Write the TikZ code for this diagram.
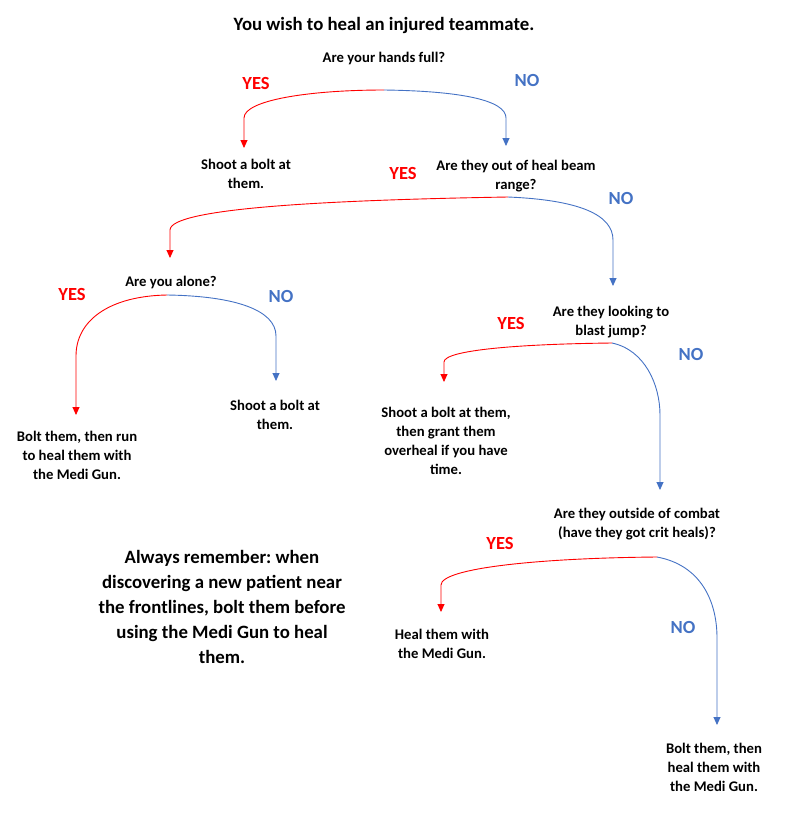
\documentclass[tikz,border=0pt]{standalone}
\usepackage{fontspec}
\setmainfont{Carlito}
\usetikzlibrary{arrows.meta}
\frenchspacing

\begin{document}
\begin{tikzpicture}[x=1pt,y=-1pt,
  txt/.style={font=\fontsize{14.7}{19}\selectfont\bfseries,align=center,inner sep=0pt},
  big/.style={font=\fontsize{18.8}{25}\selectfont\bfseries,align=center,inner sep=0pt},
  yes/.style={font=\fontsize{18.5}{19}\selectfont\bfseries,text=yesred,inner sep=0pt},
  no/.style={font=\fontsize{18.5}{19}\selectfont\bfseries,text=noblue,inner sep=0pt},
  yesline/.style={draw=yesred,line width=0.9pt,-{Triangle[width=7pt,length=8pt]}},
  noline/.style={draw=noblue,line width=0.9pt,-{Triangle[width=7pt,length=8pt]}}]
  \definecolor{yesred}{RGB}{255,0,0}
  \definecolor{noblue}{RGB}{68,114,196}
  \useasboundingbox (0,0) rectangle (786,820);
  \node[big] (title) at (384,25) {You wish to heal an injured teammate.};
  \node[txt] (q1) at (384,58) {Are your hands full?};
  \node[txt] (a1) at (246,173.5) {Shoot a bolt at\\them.};
  \node[txt] (q2) at (516,176.5) {Are they out of heal beam\\range?};
  \node[txt] (q3) at (171,282) {Are you alone?};
  \node[txt] (a2) at (77,455) {Bolt them, then run\\to heal them with\\the Medi Gun.};
  \node[txt] (a3) at (275,414.5) {Shoot a bolt at\\them.};
  \node[txt] (q4) at (611,322.5) {Are they looking to\\blast jump?};
  \node[txt] (a4) at (446,441) {Shoot a bolt at them,\\then grant them\\overheal if you have\\time.};
  \node[txt] (q5) at (637,524.5) {Are they outside of combat\\(have they got crit heals)?};
  \node[txt] (a5) at (442,643.5) {Heal them with\\the Medi Gun.};
  \node[txt] (a6) at (714,767.5) {Bolt them, then\\heal them with\\the Medi Gun.};
  \node[big] (note) at (222,607) {Always remember: when\\discovering a new patient near\\the frontlines, bolt them before\\using the Medi Gun to heal\\them.};
  \foreach \n/\x/\y in {1/256/83,2/403/173,3/72/294,4/511/323,5/500/543}
    \node[yes] (yes\n) at (\x,\y) {YES};
  \foreach \n/\x/\y in {1/527/80,2/621/198,3/281/296,4/691/354,5/683/627}
    \node[no] (no\n) at (\x,\y) {NO};
  \coordinate (s1) at (384,90);
  \coordinate (s2) at (508,197);
  \coordinate (s3) at (167,295);
  \coordinate (s4) at (612,343);
  \coordinate (s5) at (657,557);
  \coordinate (e1) at (244,148);
  \coordinate (e2) at (506,146);
  \coordinate (e3) at (170,258);
  \coordinate (e4) at (613,286);
  \coordinate (e5) at (76,415);
  \coordinate (e6) at (276,381);
  \coordinate (e7) at (444,382);
  \coordinate (e8) at (660,490);
  \coordinate (e9) at (441,612);
  \coordinate (e10) at (717,725);
  \draw[yesline] (s1) .. controls (310,90) and (244,100) .. (244,118) -- (e1);
  \draw[noline] (s1) .. controls (460,91) and (506,100) .. (506,118) -- (e2);
  \draw[yesline] (s2) .. controls (330,200) and (170,208) .. (170,230) -- (e3);
  \draw[noline] (s2) .. controls (580,200) and (613,215) .. (613,240) -- (e4);
  \draw[yesline] (s3) .. controls (110,296) and (76,320) .. (76,356) -- (e5);
  \draw[noline] (s3) .. controls (235,296) and (276,310) .. (276,336) -- (e6);
  \draw[yesline] (s4) .. controls (520,344) and (444,350) .. (444,362) -- (e7);
  \draw[noline] (s4) .. controls (645,350) and (660,385) .. (660,415) -- (e8);
  \draw[yesline] (s5) .. controls (540,558) and (441,568) .. (441,585) -- (e9);
  \draw[noline] (s5) .. controls (700,565) and (717,600) .. (717,638) -- (e10);
\end{tikzpicture}
\end{document}
